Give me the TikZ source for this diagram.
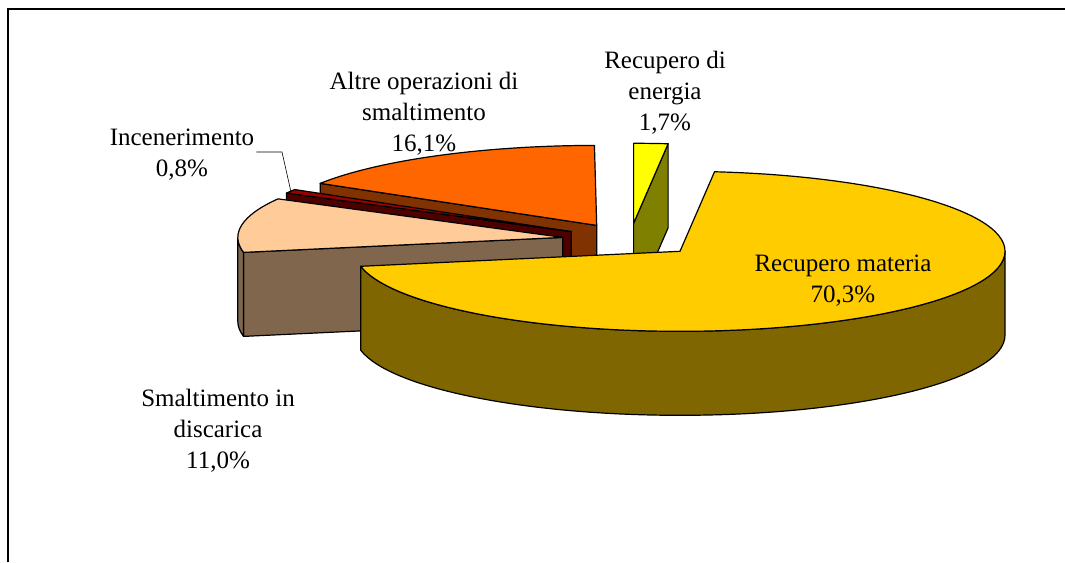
\documentclass[tikz,border=0pt]{standalone}
\usepackage{fontspec}
\setmainfont{Liberation Serif}
\usetikzlibrary{calc}
\definecolor{materiatop}{HTML}{FFCC00}
\definecolor{materiaside}{HTML}{806600}
\definecolor{energiatop}{HTML}{FFFF00}
\definecolor{energiaside}{HTML}{808000}
\definecolor{altretop}{HTML}{FF6600}
\definecolor{altreside}{HTML}{803300}
\definecolor{incentop}{HTML}{990000}
\definecolor{incenside}{HTML}{4D0000}
\definecolor{discartop}{HTML}{FFCC99}
\definecolor{discarside}{HTML}{80664D}

\begin{document}
\begin{tikzpicture}[x=1pt, y=-1pt,
    face/.style={draw=black, line width=1.2pt, line join=round},
    lbl/.style={font=\fontsize{25}{31}\selectfont, align=center, inner sep=2pt},
    leader/.style={draw=black, line width=0.6pt}]
      \useasboundingbox (0,0) rectangle (1065,562);
      % frame
      \draw[line width=1.5pt] (8,562) -- (8,9) -- (1065,9);

      % slice apexes (exploded)
      \coordinate (eneA) at (633.6,223.3);
      \coordinate (matA) at (680.0,251.3);
      \coordinate (disA) at (562.8,237.4);
      \coordinate (incA) at (571.3,231.6);
      \coordinate (altA) at (596.7,225.4);

      % ALTRE OPERAZIONI
      \filldraw[face, fill=altreside] (altA) -- ($(altA)+(148.3:325pt and 80pt)$) -- ++(0,84) -- ($(altA)+(0,84)$) -- cycle;
      \filldraw[face, fill=altretop] (altA) -- ($(altA)+(90.4:325pt and 80pt)$)
        arc[start angle=90.4, end angle=148.3, x radius=325pt, y radius=80pt] -- cycle;

      % RECUPERO ENERGIA
      \filldraw[face, fill=energiaside] (eneA) -- ($(eneA)+(83.9:325pt and 80pt)$) -- ++(0,84) -- ($(eneA)+(0,84)$) -- cycle;
      \filldraw[face, fill=energiatop] (eneA) -- ($(eneA)+(83.9:325pt and 80pt)$)
        arc[start angle=83.9, end angle=90, x radius=325pt, y radius=80pt] -- cycle;

      % INCENERIMENTO
      \filldraw[face, fill=incenside] (incA) -- ($(incA)+(151.2:325pt and 80pt)$) -- ++(0,84) -- ($(incA)+(0,84)$) -- cycle;
      \filldraw[face, fill=incentop] (incA) -- ($(incA)+(148.3:325pt and 80pt)$)
        arc[start angle=148.3, end angle=151.2, x radius=325pt, y radius=80pt] -- cycle;

      % DISCARICA
      \filldraw[face, fill=discarside] (disA) -- ($(disA)+(190.8:325pt and 80pt)$) -- ++(0,84) -- ($(disA)+(0,84)$) -- cycle;
      \filldraw[face, fill=discarside] ($(disA)+(180:325pt and 80pt)$)
        arc[start angle=180, end angle=190.8, x radius=325pt, y radius=80pt] -- ++(0,84)
        arc[start angle=190.8, end angle=180, x radius=325pt, y radius=80pt] -- cycle;
      \filldraw[face, fill=discartop] (disA) -- ($(disA)+(151.2:325pt and 80pt)$)
        arc[start angle=151.2, end angle=190.8, x radius=325pt, y radius=80pt] -- cycle;

      % RECUPERO MATERIA
      \filldraw[face, fill=materiaside] ($(matA)+(190.8:325pt and 80pt)$)
        arc[start angle=190.8, end angle=360, x radius=325pt, y radius=80pt] -- ++(0,84)
        arc[start angle=360, end angle=190.8, x radius=325pt, y radius=80pt] -- cycle;
      \filldraw[face, fill=materiatop] (matA) -- ($(matA)+(83.9:325pt and 80pt)$)
        arc[start angle=83.9, end angle=-169.2, x radius=325pt, y radius=80pt] -- cycle;

      % labels
      \node[lbl] (incLbl) at (182,155) {Incenerimento\\0,8\%};
      \node[lbl] (altLbl) at (424,114) {Altre operazioni di\\smaltimento\\16,1\%};
      \node[lbl] (eneLbl) at (665,93) {Recupero di\\energia\\1,7\%};
      \node[lbl] (matLbl) at (843,281) {Recupero materia\\70,3\%};
      \node[lbl] (disLbl) at (218,431) {Smaltimento in\\discarica\\11,0\%};

      \coordinate (incTip) at (291,192);
      \draw[leader] (incLbl.east) ++(0,-3) -- (282,152) -- (incTip);
\end{tikzpicture}
\end{document}
